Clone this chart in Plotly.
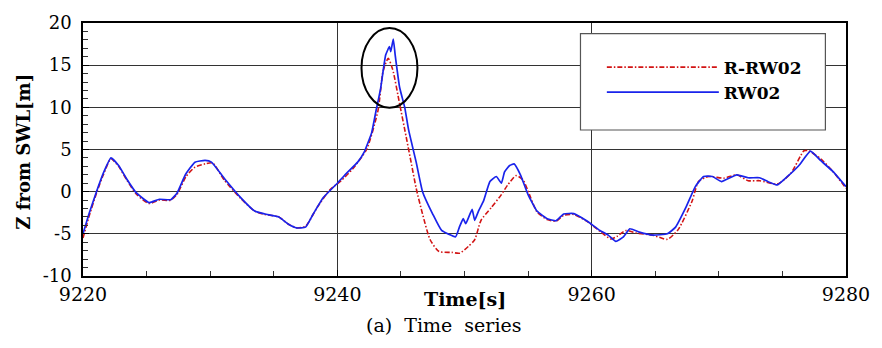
import plotly.graph_objects as go

# RW02 (blue, solid)
t_rw02 = [9220.0, 9220.5, 9221.06, 9221.6, 9222.2, 9222.8, 9223.4, 9224.2, 9225.2, 9226.0,
          9226.9, 9227.4, 9228.05, 9228.8, 9229.6, 9230.1, 9231.1, 9232.4, 9233.5, 9234.3,
          9235.4, 9236.1, 9236.8, 9237.5, 9238.1, 9238.9, 9240.0, 9240.7, 9241.6, 9242.1,
          9242.7, 9243.05, 9243.4, 9243.8, 9244.1, 9244.2, 9244.4, 9244.55, 9244.9, 9245.3,
          9245.6, 9246.2, 9246.7, 9247.5, 9248.2, 9249.3, 9249.6, 9249.9, 9250.1, 9250.6,
          9250.8, 9251.1, 9251.5, 9252.0, 9252.5, 9252.9, 9253.15, 9253.55, 9253.9, 9254.4,
          9255.0, 9255.7, 9256.5, 9257.2, 9257.8, 9258.6, 9259.6, 9260.65, 9261.3, 9261.9,
          9262.5, 9263.0, 9263.75, 9264.8, 9265.95, 9266.6, 9267.4, 9268.15, 9268.8, 9269.5,
          9270.2, 9271.4, 9272.3, 9273.2, 9273.85, 9274.6, 9275.4, 9276.3, 9277.2, 9278.0,
          9279.0, 9280.0]
z_rw02 = [-5.0, -2.5, 0.0, 2.2, 4.0, 3.1, 1.6, -0.15, -1.3, -0.9,
          -0.95, -0.15, 2.0, 3.5, 3.7, 3.5, 1.6, -0.7, -2.3, -2.65,
          -3.0, -3.8, -4.3, -4.2, -2.65, -0.7, 1.0, 2.15, 3.5, 4.65,
          7.0, 9.65, 12.2, 16.2, 17.2, 16.6, 18.1, 16.2, 12.35, 10.0,
          7.35, 3.5, 0.0, -2.65, -4.6, -5.35, -4.2, -3.2, -3.8, -2.1,
          -3.4, -2.3, -1.1, 1.2, 1.8, 1.0, 2.35, 3.1, 3.3, 2.0,
          -0.35, -2.3, -3.2, -3.45, -2.65, -2.6, -3.45, -4.6, -5.15, -5.9,
          -5.35, -4.4, -4.8, -5.15, -5.0, -4.2, -1.9, 0.6, 1.8, 1.8,
          1.2, 2.0, 1.65, 1.65, 1.2, 0.8, 1.8, 3.1, 4.8, 3.7,
          2.35, 0.6]

# R-RW02 (red, dash-dot)
t_r_rw02 = [9220.0, 9220.5, 9221.1, 9221.6, 9222.2, 9222.8, 9223.4, 9224.2, 9225.2, 9226.0,
            9226.9, 9227.4, 9228.1, 9228.8, 9229.6, 9230.2, 9231.1, 9232.4, 9233.5, 9234.3,
            9235.4, 9236.1, 9236.8, 9237.5, 9238.4, 9239.4, 9240.3, 9241.2, 9242.3, 9243.2,
            9243.6, 9244.0, 9244.35, 9244.9, 9245.4, 9245.8, 9246.2, 9246.7, 9247.3, 9248.0,
            9249.0, 9249.6, 9250.3, 9250.8, 9251.3, 9252.1, 9252.9, 9253.4, 9254.05, 9254.6,
            9255.2, 9255.7, 9256.5, 9257.2, 9257.8, 9258.6, 9259.6, 9260.65, 9261.5, 9262.0,
            9262.7, 9263.5, 9264.8, 9265.95, 9266.8, 9267.9, 9268.4, 9269.2, 9270.4, 9271.4,
            9272.3, 9273.2, 9274.6, 9275.65, 9276.7, 9277.05, 9278.0, 9279.0, 9280.0]
z_r_rw02 = [-5.5, -2.8, 0.0, 2.0, 3.9, 3.0, 1.5, -0.3, -1.4, -1.0,
            -1.0, -0.3, 1.8, 2.9, 3.3, 3.4, 1.4, -0.8, -2.3, -2.7,
            -3.0, -3.8, -4.3, -4.1, -1.9, 0.2, 1.3, 2.7, 5.0, 9.65,
            14.3, 15.8, 14.5, 10.4, 6.6, 3.5, 0.4, -2.65, -5.7, -7.1,
            -7.2, -7.3, -6.5, -5.7, -3.4, -1.9, -0.35, 0.8, 1.9, 1.4,
            -0.7, -2.4, -3.3, -3.5, -2.8, -2.7, -3.5, -4.7, -5.6, -5.3,
            -4.6, -4.9, -5.15, -5.65, -4.5, -1.1, 1.2, 1.8, 1.6, 2.0,
            1.3, 1.3, 0.9, 2.15, 4.85, 4.85, 3.9, 2.35, 0.4]

x_ticks = [9220, 9240, 9260, 9280]
y_ticks = [-10, -5, 0, 5, 10, 15, 20]
series_names = ["R-RW02", "RW02"]

# highlight ellipse around the peak (data coordinates)
ellipse_t = [9241.9, 9246.3]
ellipse_z = [9.95, 19.4]

FONT = "DejaVu Serif"

fig = go.Figure()
fig.add_trace(go.Scatter(
    x=t_r_rw02, y=z_r_rw02, mode="lines", name=series_names[0], legendgroup="a",
    line=dict(color="rgb(210,20,20)", width=1.6, dash="5px,2px,1.5px,2px",
              shape="spline", smoothing=0.6)))
fig.add_trace(go.Scatter(
    x=t_rw02, y=z_rw02, mode="lines", name=series_names[1], legendgroup="b",
    line=dict(color="rgb(25,35,235)", width=1.7, shape="spline", smoothing=0.4)))

fig.add_shape(type="circle", xref="x", yref="y",
              x0=ellipse_t[0], x1=ellipse_t[1], y0=ellipse_z[0], y1=ellipse_z[1],
              line=dict(color="black", width=2))

# legend box
fig.add_shape(type="rect", xref="paper", yref="paper",
              x0=0.652, x1=0.973, y0=0.577, y1=0.958,
              line=dict(color="#555555", width=1.2), fillcolor="white", layer="above")

fig.add_annotation(text="<b>Time[s]</b>", xref="paper", yref="paper",
                   x=0.5, y=-0.09, xanchor="center", yanchor="middle",
                   showarrow=False, font=dict(family=FONT, size=19, color="black"))
fig.add_annotation(text="<b>Z from SWL[m]</b>", xref="paper", yref="paper",
                   x=-0.079, y=0.49, xanchor="center", yanchor="middle", textangle=-90,
                   showarrow=False, font=dict(family=FONT, size=18, color="black"))
fig.add_annotation(text="(a)  Time  series", xref="paper", yref="paper",
                   x=0.472, y=-0.195, xanchor="center", yanchor="middle",
                   showarrow=False, font=dict(family=FONT, size=19, color="black"))

fig.update_layout(
    width=882, height=348,
    margin=dict(l=83, r=26, t=16, b=72),
    paper_bgcolor="white", plot_bgcolor="white",
    font=dict(family=FONT, color="black"),
    showlegend=True,
    legend=dict(x=0.68, y=0.895, xanchor="left", yanchor="top",
                bgcolor="rgba(0,0,0,0)", borderwidth=0, traceorder="normal",
                itemwidth=112, font=dict(family=FONT, size=17, color="black", weight="bold"),
                tracegroupgap=5),
)
fig.update_xaxes(
    range=[9220, 9280], tickvals=x_ticks, ticktext=[str(v) for v in x_ticks],
    showgrid=True, gridcolor="#333333", gridwidth=1,
    showline=True, linecolor="black", linewidth=1.5, mirror=True,
    ticks="inside", ticklen=6, tickcolor="black",
    minor=dict(dtick=5, tick0=9220, ticks="inside", ticklen=5, tickcolor="#333333", showgrid=False),
    tickfont=dict(family=FONT, size=19, color="black"),
    zeroline=False)
fig.update_yaxes(
    range=[-10, 20], tickvals=y_ticks, ticktext=[str(v) for v in y_ticks],
    showgrid=True, gridcolor="#333333", gridwidth=1,
    showline=True, linecolor="black", linewidth=1.5, mirror=True,
    ticks="inside", ticklen=6, tickcolor="black",
    minor=dict(dtick=1, ticks="inside", ticklen=5, tickcolor="#333333", showgrid=False),
    tickfont=dict(family=FONT, size=18, color="black"),
    ticklabelstandoff=6,
    zeroline=False)

fig.write_html("out.html")
